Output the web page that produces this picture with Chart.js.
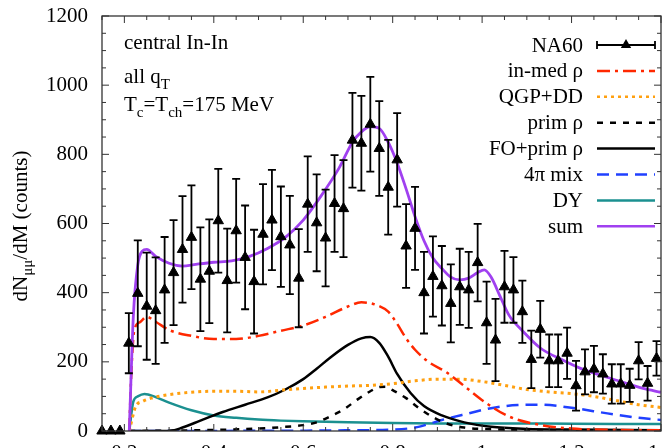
<!DOCTYPE html>
<html>
<head>
<meta charset="utf-8">
<script src="https://cdn.jsdelivr.net/npm/chart.js@4.4.0/dist/chart.umd.min.js"></script>
<style>
html, body { margin: 0; padding: 0; overflow: hidden; background: #fff; }
canvas { display: block; }
</style>
</head>
<body>
<canvas id="chart" width="668" height="470"></canvas>
<script>
// NA60 data
const massNA60 = [0.15, 0.17, 0.19, 0.21, 0.23, 0.25, 0.27, 0.29, 0.31, 0.33, 0.35, 0.37, 0.39, 0.41, 0.43, 0.45, 0.47, 0.49,
  0.51, 0.53, 0.55, 0.57, 0.59, 0.61, 0.63, 0.65, 0.67, 0.69, 0.71, 0.73, 0.75, 0.77, 0.79, 0.81, 0.83, 0.85, 0.87, 0.89,
  0.91, 0.93, 0.95, 0.97, 0.99, 1.01, 1.03, 1.05, 1.07, 1.09, 1.11, 1.13, 1.15, 1.17, 1.19, 1.21, 1.23, 1.25, 1.27, 1.29,
  1.31, 1.33, 1.35, 1.37, 1.39];
const countsNA60 = [0, 0, 0, 254, 398, 361, 348, 408, 458, 525, 560, 439, 462, 608, 435, 579, 502, 432,
  569, 610, 562, 538, 442, 656, 602, 558, 658, 643, 841, 832, 887, 817, 705, 784, 535, 586, 400, 447,
  420, 369, 417, 408, 487, 313, 263, 417, 408, 345, 207, 294, 203, 203, 225, 131, 171, 179, 165, 136,
  136, 132, 203, 138, 210];
const errNA60 = [0, 0, 0, 87, 153, 155, 154, 153, 152, 154, 150, 150, 150, 150, 150, 150, 150, 150,
  145, 145, 145, 142, 142, 138, 140, 140, 140, 140, 137, 137, 137, 137, 137, 135, 121, 120, 118, 116,
  115, 113, 110, 110, 112, 119, 119, 104, 95, 90, 83, 82, 76, 76, 74, 72, 65, 67, 57, 57,
  57, 48, 54, 50, 50];

// model curves
const inmedX = [0.211, 0.215, 0.222, 0.235, 0.25, 0.27, 0.30, 0.35, 0.40, 0.45, 0.50, 0.55, 0.60, 0.65, 0.70, 0.73, 0.76,
  0.79, 0.81, 0.83, 0.85, 0.88, 0.92, 0.96, 1.01, 1.06, 1.12, 1.2, 1.3, 1.4];
const inmedY = [0, 150, 290, 315, 330, 316, 292, 275, 266, 266, 275, 290, 305, 330, 360, 372, 366,
  345, 310, 268, 235, 200, 170, 130, 80, 42, 20, 7, 3, 2];

const qgpX = [0.211, 0.225, 0.24, 0.26, 0.30, 0.35, 0.40, 0.45, 0.50, 0.55, 0.60, 0.65, 0.70, 0.75, 0.80, 0.85, 0.90,
  0.95, 1.0, 1.05, 1.1, 1.15, 1.2, 1.25, 1.3, 1.35, 1.4];
const qgpY = [0, 70, 85, 95, 105, 112, 115, 115, 113, 118, 123, 127, 130, 132, 137, 145, 150,
  150, 143, 132, 120, 113, 108, 100, 88, 76, 68];

const primX = [0.211, 0.3, 0.4, 0.5, 0.55, 0.6, 0.63, 0.66, 0.69, 0.72, 0.75, 0.77, 0.785, 0.80, 0.83, 0.86, 0.89,
  0.92, 0.96, 1.0, 1.1, 1.2, 1.4];
const primY = [0, 1, 3, 7, 11, 17, 25, 42, 62, 90, 115, 127, 128, 118, 95, 65, 40,
  22, 10, 6, 3, 2, 1];

const foX = [0.211, 0.30, 0.33, 0.37, 0.42, 0.47, 0.52, 0.56, 0.60, 0.63, 0.66, 0.70, 0.73, 0.75, 0.77, 0.79, 0.81,
  0.84, 0.87, 0.91, 0.96, 1.02, 1.1, 1.2, 1.4];
const foY = [0, 0, 10, 30, 55, 76, 97, 120, 150, 180, 212, 249, 268, 272, 255, 215, 165,
  110, 72, 45, 25, 12, 6, 4, 2];

const mixX = [0.211, 0.6, 0.7, 0.8, 0.85, 0.88, 0.91, 0.97, 1.02, 1.08, 1.13, 1.2, 1.28, 1.35, 1.4];
const mixY = [0, 1, 2, 4, 10, 20, 32, 51, 66, 75, 76, 67, 51, 38, 32];

const dyX = [0.211, 0.22, 0.23, 0.245, 0.27, 0.30, 0.35, 0.40, 0.45, 0.50, 0.55, 0.60, 0.70, 0.80, 0.9, 1.0, 1.2, 1.4];
const dyY = [0, 85, 100, 107, 98, 82, 60, 45, 38, 33, 30, 28, 25, 23, 22, 22, 21, 20];

const sumX = [0.211, 0.22, 0.23, 0.24, 0.25, 0.27, 0.30, 0.33, 0.36, 0.40, 0.44, 0.48, 0.52, 0.56, 0.60, 0.64, 0.68,
  0.71, 0.73, 0.75, 0.77, 0.79, 0.81, 0.83, 0.85, 0.87, 0.89, 0.91, 0.93, 0.95, 0.97, 0.99, 1.005, 1.02, 1.04, 1.06,
  1.09, 1.13, 1.18, 1.22, 1.27, 1.31, 1.36, 1.4];
const sumY = [0, 330, 480, 520, 525, 505, 485, 477, 482, 488, 492, 505, 528, 560, 610, 680, 760,
  835, 865, 880, 875, 835, 775, 700, 620, 550, 500, 470, 445, 437, 442, 458, 466, 445, 390, 335,
  290, 240, 205, 181, 159, 143, 123, 112];

const xTicks = [0.2, 0.4, 0.6, 0.8, 1, 1.2, 1.4];
const yTicks = [0, 200, 400, 600, 800, 1000, 1200];

const FONT = '"Liberation Serif", "DejaVu Serif", serif';

function pts(xs, ys) { return xs.map((x, i) => ({ x: x, y: ys[i] })); }

function curve(label, xs, ys, color, dash, width) {
  return {
    label: label, data: pts(xs, ys), borderColor: color, backgroundColor: color,
    borderWidth: width || 2.5, borderDash: dash, pointRadius: 0, fill: false,
    cubicInterpolationMode: 'monotone'
  };
}

const legendItems = [
  { label: 'NA60', color: '#000', dash: [], na60: true },
  { label: 'in-med ρ', color: '#ff2800', dash: [13, 5, 3, 5] },
  { label: 'QGP+DD', color: '#ffa010', dash: [3, 4] },
  { label: 'prim ρ', color: '#000', dash: [6, 7] },
  { label: 'FO+prim ρ', color: '#000', dash: [] },
  { label: '4π mix', color: '#2040ff', dash: [12, 7] },
  { label: 'DY', color: '#1b9090', dash: [] },
  { label: 'sum', color: '#a040f0', dash: [] }
];

const decor = {
  id: 'decor',
  afterDatasetsDraw(chart) {
    const ctx = chart.ctx, xs = chart.scales.x, ys = chart.scales.y, a = chart.chartArea;
    ctx.save();
    // error bars
    ctx.strokeStyle = '#000';
    ctx.lineWidth = 1.8;
    massNA60.forEach((m, i) => {
      if (!errNA60[i]) return;
      const px = xs.getPixelForValue(m);
      const y1 = ys.getPixelForValue(countsNA60[i] + errNA60[i]);
      const y2 = ys.getPixelForValue(countsNA60[i] - errNA60[i]);
      ctx.beginPath();
      ctx.moveTo(px, y1); ctx.lineTo(px, y2);
      ctx.moveTo(px - 4, y1); ctx.lineTo(px + 4, y1);
      ctx.moveTo(px - 4, y2); ctx.lineTo(px + 4, y2);
      ctx.stroke();
    });
    // frame and inward ticks
    ctx.strokeStyle = '#333';
    ctx.lineWidth = 1.3;
    ctx.strokeRect(a.left, a.top, a.right - a.left, a.bottom - a.top);
    ctx.lineWidth = 1;
    ctx.beginPath();
    for (let k = 3; k <= 28; k++) {
      const px = xs.getPixelForValue(k * 0.05);
      const len = k % 4 === 0 ? 7 : 4;
      ctx.moveTo(px, a.bottom); ctx.lineTo(px, a.bottom - len);
      ctx.moveTo(px, a.top); ctx.lineTo(px, a.top + len);
    }
    for (let k = 0; k <= 24; k++) {
      const py = ys.getPixelForValue(k * 50);
      const len = k % 4 === 0 ? 7 : 4;
      ctx.moveTo(a.left, py); ctx.lineTo(a.left + len, py);
      ctx.moveTo(a.right, py); ctx.lineTo(a.right - len, py);
    }
    ctx.stroke();

    // legend
    ctx.font = '21px ' + FONT;
    ctx.fillStyle = '#000';
    ctx.textAlign = 'right';
    ctx.textBaseline = 'middle';
    legendItems.forEach((it, i) => {
      const y = 45 + i * 25.9;
      ctx.fillText(it.label, 583, y + 1);
      ctx.strokeStyle = it.color;
      ctx.lineWidth = it.na60 ? 1.8 : 2.5;
      ctx.setLineDash(it.dash);
      ctx.beginPath();
      ctx.moveTo(597, y); ctx.lineTo(655, y);
      if (it.na60) {
        ctx.moveTo(597, y - 4); ctx.lineTo(597, y + 4);
        ctx.moveTo(655, y - 4); ctx.lineTo(655, y + 4);
      }
      ctx.stroke();
      ctx.setLineDash([]);
      if (it.na60) {
        ctx.beginPath();
        ctx.moveTo(626, y - 6); ctx.lineTo(631.2, y + 3); ctx.lineTo(620.8, y + 3);
        ctx.closePath();
        ctx.fill();
      }
    });

    // annotation text
    ctx.textAlign = 'left';
    ctx.textBaseline = 'alphabetic';
    ctx.fillText('central In-In', 124, 49);
    let x = 124;
    ctx.fillText('all q', x, 83);
    x += ctx.measureText('all q').width;
    ctx.font = '15px ' + FONT;
    ctx.fillText('T', x, 89);
    const parts = [['T', 0], ['c', 1], ['=T', 0], ['ch', 1], ['=175 MeV', 0]];
    x = 124;
    parts.forEach(p => {
      ctx.font = (p[1] ? '15px ' : '21px ') + FONT;
      ctx.fillText(p[0], x, p[1] ? 117 : 111);
      x += ctx.measureText(p[0]).width;
    });

    // y axis title
    ctx.translate(27, 226);
    ctx.rotate(-Math.PI / 2);
    const title = [['dN', 0], ['μμ', 1], ['/dM (counts)', 0]];
    let w = 0;
    title.forEach(p => { ctx.font = (p[1] ? '15px ' : '21px ') + FONT; w += ctx.measureText(p[0]).width; });
    x = -w / 2;
    title.forEach(p => {
      ctx.font = (p[1] ? '15px ' : '21px ') + FONT;
      ctx.fillText(p[0], x, p[1] ? 5 : 0);
      x += ctx.measureText(p[0]).width;
    });
    ctx.restore();
  }
};

new Chart(document.getElementById('chart'), {
  type: 'line',
  data: {
    datasets: [
      {
        label: 'NA60', data: pts(massNA60, countsNA60), showLine: false,
        pointStyle: 'triangle', pointRadius: 6, pointBackgroundColor: '#000', pointBorderColor: '#000',
        pointBorderWidth: 1, clip: false
      },
      curve('sum', sumX, sumY, '#a040f0', [], 2.8),
      curve('in-med ρ', inmedX, inmedY, '#ff2800', [13, 5, 3, 5]),
      curve('QGP+DD', qgpX, qgpY, '#ffa010', [3, 4], 3),
      curve('prim ρ', primX, primY, '#000', [6, 7]),
      curve('FO+prim ρ', foX, foY, '#000', []),
      curve('4π mix', mixX, mixY, '#2040ff', [12, 7]),
      curve('DY', dyX, dyY, '#1b9090', [])
    ]
  },
  options: {
    responsive: false,
    animation: false,
    devicePixelRatio: 1,
    layout: { padding: { left: 0, right: 1, top: 16, bottom: 0 } },
    plugins: { legend: { display: false }, tooltip: { enabled: false } },
    scales: {
      x: {
        type: 'linear', min: 0.15, max: 1.4,
        grid: { display: false, drawTicks: false },
        border: { display: false },
        afterBuildTicks: s => { s.ticks = xTicks.map(v => ({ value: v })); },
        afterFit: s => { s.height = 39; s.paddingLeft = 0; s.paddingRight = 0; },
        ticks: { color: '#000', padding: 10, maxRotation: 0, font: { family: FONT, size: 21 },
          callback: v => String(+v.toFixed(2)) }
      },
      y: {
        min: 0, max: 1200,
        grid: { display: false, drawTicks: false },
        border: { display: false },
        afterBuildTicks: s => { s.ticks = yTicks.map(v => ({ value: v })); },
        afterFit: s => { s.width = 102; s.paddingTop = 0; s.paddingBottom = 0; },
        ticks: { color: '#000', padding: 14, font: { family: FONT, size: 21 },
          callback: v => String(v) }
      }
    }
  },
  plugins: [decor]
});
</script>
</body>
</html>
